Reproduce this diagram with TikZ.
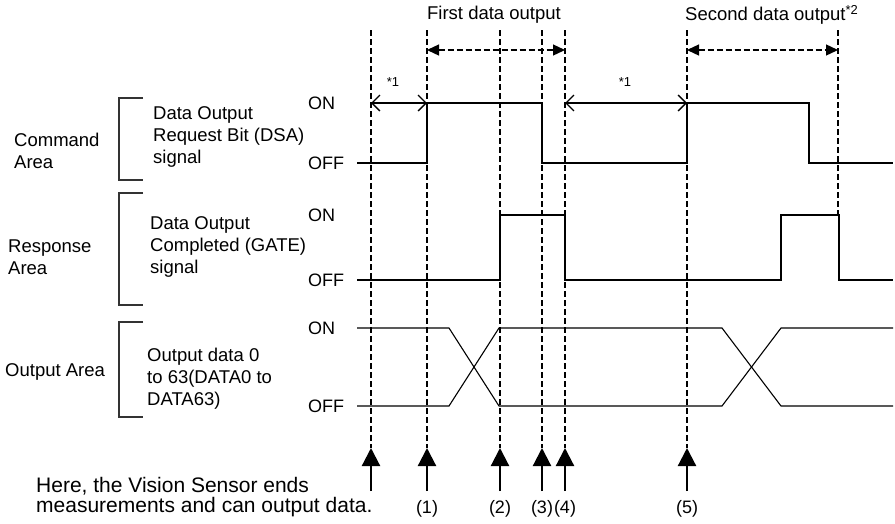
\documentclass[tikz,border=0pt]{standalone}
\usepackage{fontspec}
\setmainfont{Liberation Sans}
\usetikzlibrary{arrows.meta}

\tikzset{
  sig/.style={line width=1.1pt},
  guide/.style={line width=1.3pt, dash pattern=on 6pt off 3pt},
  brak/.style={line width=2pt, draw=black!80},
  lvl/.style={anchor=west, inner sep=0pt, font=\fontsize{18}{22}\selectfont},
  txt/.style={anchor=west, align=left, inner sep=0pt, font=\fontsize{18.5}{22}\selectfont},
  note/.style={inner sep=0pt, font=\fontsize{13}{14}\selectfont},
  uparrow/.style={line width=2.2pt, -{Triangle[length=18pt, width=18pt]}},
  spanarrow/.style={guide, {Triangle[length=12pt, width=11pt]}-{Triangle[length=12pt, width=11pt]}},
  waitarrow/.style={line width=1.3pt, {Straight Barb[length=8pt, width=16pt]}-{Straight Barb[length=8pt, width=16pt]}}
}

\begin{document}
\begin{tikzpicture}[x=1pt, y=-1pt]
  \useasboundingbox (0,0) rectangle (895,523);
  % time marks
  \foreach \n/\x in {0/371, 1/427, 2/500, 3/542, 4/565, 5/687, 6/838} {
    \coordinate (top\n) at (\x, 30);
    \coordinate (span\n) at (\x, 50);
    \coordinate (wait\n) at (\x, 103);
    \coordinate (tip\n) at (\x, 448);
    \coordinate (foot\n) at (\x, 491);
  }
  \coordinate (gate6) at (838, 215);

  % guide lines
  \foreach \n in {0,...,5}
    \draw[guide] (top\n) -- (tip\n);
  \draw[guide] (top6) -- (gate6);

  % output windows
  \node (first) at (494, 15) {\fontsize{18.5}{22}\selectfont First data output};
  \node[anchor=west, inner sep=0pt] (second) at (685, 15)
    {\fontsize{18.5}{22}\selectfont Second data output\textsuperscript{*2}};
  \draw[spanarrow] (span1) -- (span4);
  \draw[spanarrow] (span5) -- (span6);
  \draw[waitarrow] (wait0) -- (wait1);
  \draw[waitarrow] (wait4) -- (wait5);
  \node[note] (waitA) at (393, 82) {*1};
  \node[note] (waitB) at (625, 82) {*1};

  % areas
  \draw[brak] (143, 98) -- (119, 98) -- (119, 180) -- (143, 180);
  \draw[brak] (143, 193) -- (119, 193) -- (119, 305) -- (143, 305);
  \draw[brak] (143, 322) -- (119, 322) -- (119, 417) -- (143, 417);
  \node[txt] (cmdArea) at (14, 151) {Command\\Area};
  \node[txt] (respArea) at (8, 257) {Response\\Area};
  \node[txt] (outArea) at (5, 372) {Output Area};
  \node[txt] (cmdSig) at (153, 137) {Data Output\\Request Bit (DSA)\\signal};
  \node[txt] (respSig) at (150, 247) {Data Output\\Completed (GATE)\\signal};
  \node[txt] (outSig) at (147, 379) {Output data 0\\to 63(DATA0 to\\DATA63)};

  % levels
  \node[lvl] (cmdOn) at (308, 103) {ON};
  \node[lvl] (cmdOff) at (308, 163) {OFF};
  \node[lvl] (respOn) at (308, 215) {ON};
  \node[lvl] (respOff) at (308, 280) {OFF};
  \node[lvl] (outOn) at (308, 328) {ON};
  \node[lvl] (outOff) at (308, 406) {OFF};

  % signals
  \draw[sig] (357, 163) -- (427, 163) -- (427, 103) -- (542, 103) -- (542, 163)
    -- (687, 163) -- (687, 103) -- (809, 103) -- (809, 163) -- (893, 163);
  \draw[sig] (357, 280) -- (500, 280) -- (500, 215) -- (565, 215) -- (565, 280)
    -- (781, 280) -- (781, 215) -- (839, 215) -- (839, 280) -- (893, 280);
  \draw[sig] (357, 328) -- (449, 328) -- (499, 406) -- (722, 406) -- (781, 328) -- (893, 328);
  \draw[sig] (357, 406) -- (449, 406) -- (499, 328) -- (722, 328) -- (781, 406) -- (893, 406);

  % events
  \foreach \n in {0,...,5}
    \draw[uparrow] (foot\n) -- (tip\n);
  \foreach \n in {1,...,5}
    \node[below=9pt, inner sep=0pt, font=\fontsize{18}{22}\selectfont] (lbl\n) at (foot\n) {(\n)};
  \node[anchor=west, align=left, inner sep=0pt,
        font=\fontsize{21}{20}\selectfont] (start) at (36, 497)
    {Here, the Vision Sensor ends\\measurements and can output data.};
\end{tikzpicture}
\end{document}
